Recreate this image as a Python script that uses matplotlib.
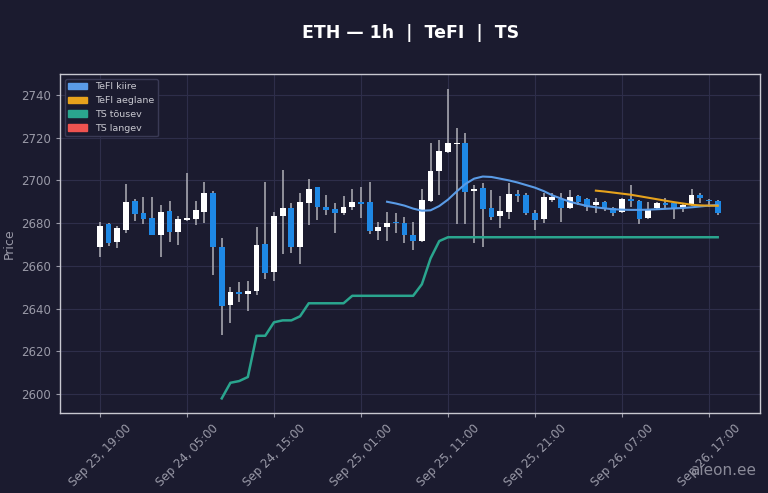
import numpy as np
import pandas as pd
import matplotlib
matplotlib.use("Agg")
import matplotlib.pyplot as plt
from matplotlib.patches import Patch

# hourly candles, ETH, Sep 23 19:00 -> Sep 26 18:00
times = pd.date_range("2024-09-23 19:00", periods=72, freq="h")

opens = [2668.7, 2679.5, 2671.0, 2676.8, 2690.4, 2684.6, 2682.3, 2674.5, 2685.7, 2676.0,
         2681.5, 2682.0, 2685.4, 2694.0, 2669.0, 2641.7, 2647.9, 2646.8, 2648.4, 2670.1,
         2657.3, 2683.4, 2686.9, 2668.7, 2689.6, 2696.8, 2687.7, 2686.6, 2684.9, 2687.4,
         2690.1, 2689.8, 2676.3, 2678.3, 2680.4, 2680.2, 2674.5, 2671.7, 2690.4, 2704.4,
         2713.5, 2716.9, 2717.4, 2695.1, 2696.3, 2686.9, 2683.3, 2685.4, 2693.5, 2693.2,
         2684.6, 2681.8, 2690.9, 2691.2, 2686.9, 2692.7, 2691.2, 2688.5, 2690.1, 2686.9,
         2685.4, 2691.2, 2690.5, 2682.3, 2686.9, 2689.6, 2689.6, 2686.9, 2688.5, 2693.2,
         2690.8, 2690.5]
highs = [2680.7, 2680.2, 2678.8, 2698.3, 2691.2, 2692.1, 2692.1, 2688.5, 2690.5, 2683.4,
         2703.6, 2690.5, 2699.4, 2695.1, 2672.9, 2650.3, 2652.5, 2653.1, 2678.1, 2699.4,
         2685.4, 2704.9, 2689.6, 2694.0, 2700.5, 2697.1, 2693.2, 2689.3, 2692.7, 2695.8,
         2697.1, 2699.4, 2680.7, 2685.4, 2684.6, 2683.0, 2680.7, 2696.0, 2717.4, 2718.9,
         2742.8, 2724.4, 2722.0, 2697.9, 2698.7, 2695.5, 2692.7, 2698.6, 2695.5, 2694.0,
         2686.2, 2694.0, 2694.0, 2694.0, 2695.5, 2693.2, 2691.6, 2691.6, 2690.5, 2687.7,
         2691.6, 2697.9, 2690.8, 2690.1, 2690.1, 2691.6, 2689.6, 2689.3, 2695.8, 2694.0,
         2691.2, 2690.8]
lows = [2664.0, 2669.3, 2668.2, 2675.2, 2681.2, 2679.4, 2674.3, 2664.3, 2671.2, 2669.8,
        2681.2, 2679.1, 2679.9, 2655.7, 2627.6, 2633.1, 2643.2, 2639.0, 2646.4, 2653.7,
        2653.1, 2665.6, 2666.2, 2660.9, 2679.1, 2681.5, 2683.8, 2675.6, 2683.8, 2686.2,
        2682.3, 2674.8, 2672.1, 2671.7, 2675.3, 2670.6, 2667.4, 2671.3, 2690.1, 2693.2,
        2712.7, 2679.4, 2679.4, 2670.6, 2669.0, 2681.5, 2677.6, 2681.8, 2690.0, 2683.8,
        2676.8, 2680.2, 2690.1, 2680.7, 2686.5, 2688.5, 2685.9, 2684.9, 2685.8, 2683.4,
        2684.9, 2687.7, 2679.6, 2681.8, 2686.2, 2686.9, 2681.8, 2685.4, 2688.0, 2689.3,
        2687.4, 2683.8]
closes = [2678.8, 2670.9, 2677.6, 2689.9, 2684.3, 2682.1, 2674.5, 2685.4, 2675.7, 2681.8,
          2682.6, 2686.2, 2694.0, 2668.7, 2641.2, 2647.9, 2647.0, 2648.4, 2669.8, 2656.8,
          2683.4, 2686.9, 2668.7, 2690.1, 2695.8, 2687.7, 2686.2, 2684.6, 2687.7, 2690.1,
          2689.0, 2676.3, 2678.3, 2680.2, 2679.9, 2674.5, 2671.7, 2690.8, 2704.4, 2713.8,
          2717.4, 2717.4, 2694.7, 2695.8, 2686.5, 2682.7, 2685.8, 2693.6, 2692.9, 2684.6,
          2681.5, 2692.1, 2692.1, 2686.9, 2692.4, 2690.1, 2687.7, 2690.1, 2686.5, 2684.9,
          2691.2, 2690.5, 2681.8, 2686.2, 2689.3, 2688.5, 2686.9, 2688.5, 2693.2, 2691.6,
          2690.4, 2684.6]

# TeFI fast line (from candle 33), TeFI slow line (from candle 57)
tefi_fast_start = 33
tefi_fast = [2690.0, 2689.2, 2688.2, 2686.8, 2685.8, 2686.0, 2688.0, 2691.0, 2694.8, 2698.3,
             2700.8, 2701.8, 2701.6, 2700.8, 2700.0, 2699.0, 2697.8, 2696.6, 2695.0, 2693.0,
             2691.5, 2690.0, 2689.0, 2688.0, 2687.4, 2686.9, 2686.5, 2686.3, 2686.2, 2686.2,
             2686.3, 2686.5, 2686.7, 2686.9, 2687.1, 2687.4, 2687.8, 2688.2, 2688.5]
tefi_slow_start = 57
tefi_slow = [2695.2, 2694.8, 2694.3, 2693.8, 2693.3, 2692.6, 2691.9, 2691.2, 2690.5, 2689.8,
             2689.2, 2688.6, 2688.3, 2688.2, 2688.1]

# TS rising (from candle 14)
ts_up_start = 14
ts_up = [2598.0, 2605.3, 2606.1, 2608.0, 2627.3, 2627.3, 2633.6, 2634.5, 2634.5, 2636.4,
         2642.5, 2642.5, 2642.5, 2642.5, 2642.5, 2646.0, 2646.0, 2646.0, 2646.0, 2646.0,
         2646.0, 2646.0, 2646.0, 2651.4, 2663.5, 2671.6, 2673.4] + [2673.4] * 31

bg = "#1b1b2f"
up_col = "#ffffff"
down_col = "#1e88e5"
wick_col = "#b0b0b8"

fig = plt.figure(figsize=(7.68, 4.93), dpi=100, facecolor=bg)
ax = fig.add_axes([0.078, 0.162, 0.912, 0.688], facecolor=bg)

x = np.arange(len(opens))
o = np.array(opens)
c = np.array(closes)
h = np.array(highs)
l = np.array(lows)
is_up = c >= o
cols = np.where(is_up, up_col, down_col)

ax.vlines(x, l, h, color=wick_col, linewidth=1.1, zorder=2)
body_lo = np.minimum(o, c)
body_h = np.maximum(np.abs(c - o), 0.6)
ax.bar(x, body_h, bottom=body_lo, width=0.66, color=cols, edgecolor="none", zorder=3)

ax.plot(np.arange(tefi_fast_start, tefi_fast_start + len(tefi_fast)), tefi_fast,
        color="#5a9be6", linewidth=1.5, zorder=4)
ax.plot(np.arange(tefi_slow_start, tefi_slow_start + len(tefi_slow)), tefi_slow,
        color="#e6a21c", linewidth=1.5, zorder=4)
ax.plot(np.arange(ts_up_start, ts_up_start + len(ts_up)), ts_up,
        color="#2aa58e", linewidth=1.8, zorder=4)

ax.set_xlim(-4.6, 75.9)
ax.set_ylim(2591.1, 2749.8)
ax.set_yticks(np.arange(2600, 2741, 20))

tick_idx = np.arange(0, 72, 10)
ax.set_xticks(tick_idx)
ax.set_xticklabels([times[i].strftime("%b %d, %H:%M") for i in tick_idx], rotation=45)

ax.grid(True, color="#2e2e4a", linewidth=0.8)
ax.set_axisbelow(True)
for s in ax.spines.values():
    s.set_color("#c8c8d0")
    s.set_linewidth(1.0)
ax.tick_params(colors="#9a9aa8", labelsize=8.5, length=3)
ax.set_ylabel("Price", color="#9a9aa8", fontsize=9)

ax.set_title("ETH — 1h  |  TeFI  |  TS", color="white", fontsize=12.5,
             fontweight="bold", pad=26)

handles = [Patch(color="#5a9be6", label="TeFI kiire"),
           Patch(color="#e6a21c", label="TeFI aeglane"),
           Patch(color="#2aa58e", label="TS tõusev"),
           Patch(color="#ef5350", label="TS langev")]
leg = ax.legend(handles=handles, loc="upper left", fontsize=6.8, facecolor=bg,
                edgecolor="#3a3a55", framealpha=1.0, handlelength=2.0)
for t in leg.get_texts():
    t.set_color("#c8c8d0")

fig.text(0.985, 0.03, "aieon.ee", color="#8a8a98", fontsize=11, ha="right", va="bottom")

fig.savefig("out.png", dpi=100, facecolor=bg)
